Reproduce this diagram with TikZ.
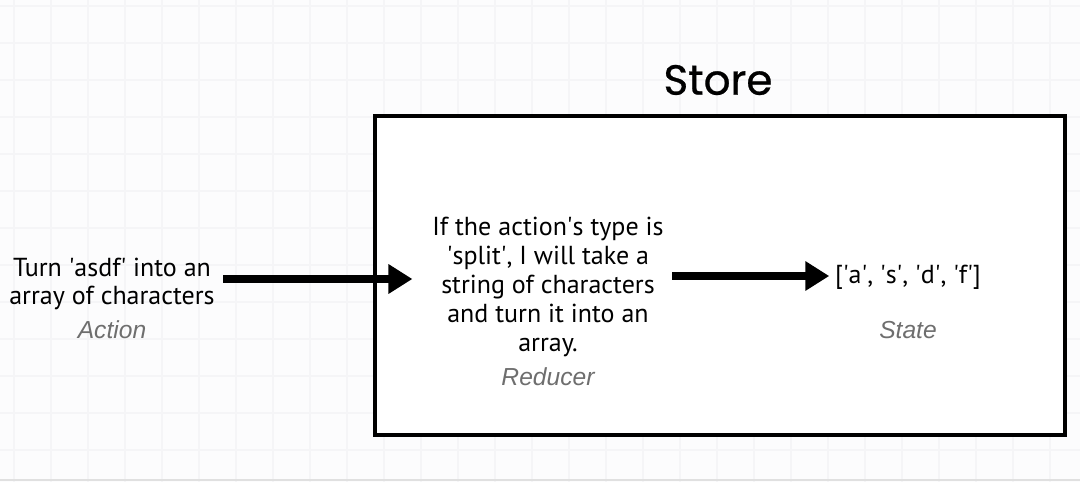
\documentclass[tikz,border=0pt]{standalone}
\usepackage{fontspec}
\setmainfont{PT Sans}
\newfontfamily\titlefont[FakeBold=0.6]{Poppins}
\newfontfamily\labelfont{Liberation Sans}
\usetikzlibrary{arrows.meta,positioning}

\definecolor{gridgray}{RGB}{245,245,247}
\definecolor{paper}{RGB}{252,252,253}
\definecolor{tag}{RGB}{110,110,110}
\newcommand{\sq}{\textquotesingle}

\tikzset{
	txt/.style={align=center, inner sep=0pt, font=\fontsize{18.5}{20.5}\selectfont},
	tagtxt/.style={inner sep=0pt, text=tag, font=\labelfont\itshape\fontsize{17.5}{20}\selectfont},
	flow/.style={line width=5.2pt, -{Triangle[length=17pt, width=20pt]}}
}

\begin{document}
\begin{tikzpicture}[x=0.025cm, y=-0.025cm]
	
	\fill[paper] (0,0) rectangle (1080,482);
	\useasboundingbox (0,0) rectangle (1080,482);
	\foreach \gx in {14,51,...,1080} \draw[gridgray, line width=0.8pt] (\gx,0) -- (\gx,482);
	\foreach \gy in {6,43,...,482} \draw[gridgray, line width=0.8pt] (0,\gy) -- (1080,\gy);
	\draw[black!12, line width=1.2pt] (0,480) -- (1080,480);
	
	\draw[fill=white, line width=3pt] (375,116) rectangle (1065,435);
	\node[font=\titlefont\fontsize{30}{34}\selectfont] (store) at (718,80) {Store};
	
	\node[txt] (action) at (112,284) {Turn \sq asdf\sq{} into an\\array of characters};
	\node[tagtxt] (actiontag) at (112,330) {Action};
	\node[txt] (reducer) at (548,287) {If the action\sq s type is\\\sq split\sq, I will take a\\string of characters\\and turn it into an\\array.};
	\node[tagtxt] (reducertag) at (548,377) {Reducer};
	\node[txt] (state) at (908,277) {[\sq a\sq, \sq s\sq, \sq d\sq, \sq f\sq]};
	\node[tagtxt] (statetag) at (908,330) {State};
	
	\draw[flow] ([xshift=6]action.east |- 0,279) -- ([xshift=-14]reducer.west |- 0,279);
	\draw[flow] ([xshift=6]reducer.east |- 0,276) -- ([xshift=-4]state.west |- 0,276);
	
\end{tikzpicture}
\end{document}
